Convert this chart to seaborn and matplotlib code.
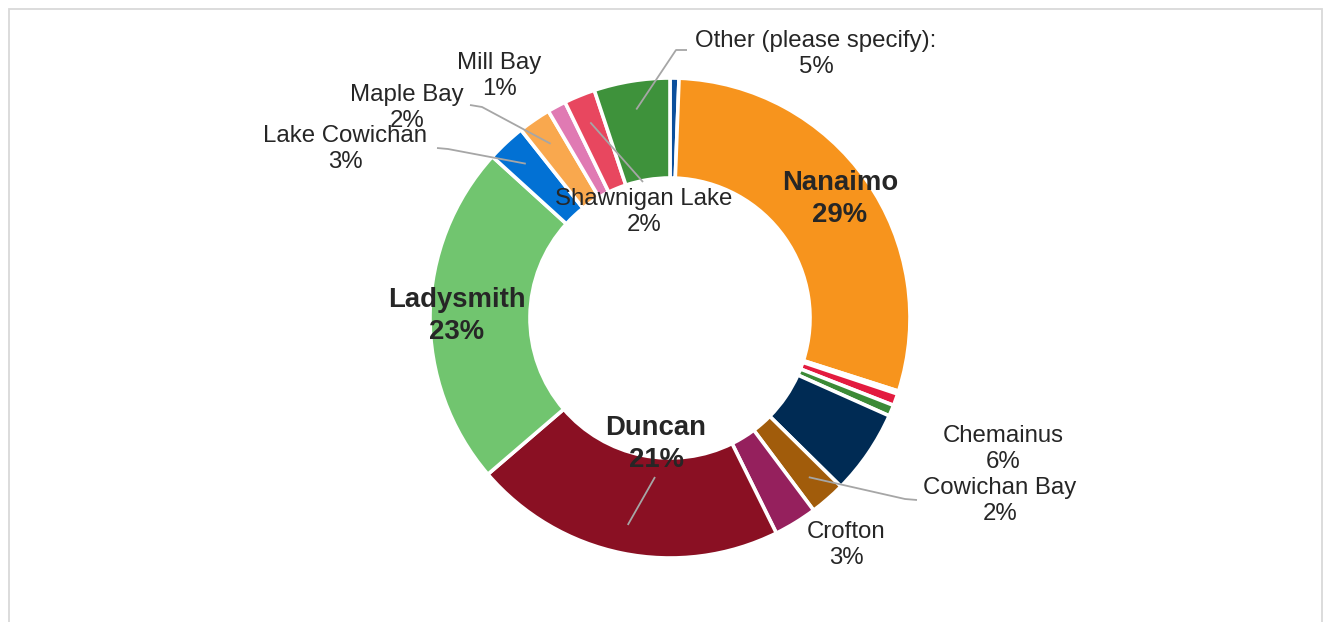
import matplotlib
matplotlib.use("Agg")
import matplotlib.pyplot as plt
from matplotlib.patches import Rectangle
import numpy as np
import seaborn as sns

# Community of residence, share of respondents (%), clockwise from 12 o'clock.
# Empty names are small groups that carry no label on the ring.
communities = ["", "Nanaimo", "", "", "", "Chemainus", "Cowichan Bay", "Crofton",
               "Duncan", "Ladysmith", "Lake Cowichan", "Maple Bay", "Mill Bay",
               "Shawnigan Lake", "Other (please specify):"]
shares = [0.6, 29.3, 0.2, 0.8, 0.75, 5.7, 2.4, 2.9,
          21.0, 23.0, 2.6, 2.2, 1.25, 2.1, 5.1]
slice_colors = ["#0B4F9C", "#F7941D", "#E87EB0", "#E31B3F", "#3C8A36", "#002B54",
                "#A15C0B", "#95205D", "#8A1023", "#71C56F", "#0271D4", "#F9A84E",
                "#E07AB3", "#E8475F", "#3E923B"]
big_labels = {"Nanaimo", "Ladysmith", "Duncan"}

# label placement in pixels (x from left, y from top) and leader-line routing
W, H = 1331, 622
CENTER = (670, 318)
R_OUT, RING = 240, 100
label_pos = {
    "Nanaimo": (840, 199), "Chemainus": (1003, 449), "Cowichan Bay": (1000, 501),
    "Crofton": (846, 545), "Duncan": (656, 444), "Ladysmith": (457, 316),
    "Lake Cowichan": (345, 149), "Maple Bay": (407, 108), "Mill Bay": (499, 76),
    "Shawnigan Lake": (644, 212), "Other (please specify):": (816, 54),
}
leaders = {
    "Other (please specify):": [(687, 50), (676, 50)],
    "Maple Bay": [(470, 105), (482, 107)],
    "Lake Cowichan": [(437, 148), (448, 149)],
    "Shawnigan Lake": [(643, 182)],
    "Duncan": [(655, 477)],
    "Cowichan Bay": [(917, 500), (905, 499)],
}

sns.set_theme(style="white")
plt.rcParams["font.family"] = ["Liberation Sans", "DejaVu Sans"]
palette = sns.color_palette(slice_colors)

fig = plt.figure(figsize=(W / 100, H / 100), dpi=100)
fig.patch.set_facecolor("white")
ax = fig.add_axes([0, 0, 1, 1])

wedges, _ = ax.pie(shares, colors=palette, startangle=-90, counterclock=True,
                   center=CENTER, radius=R_OUT,
                   wedgeprops=dict(width=RING, edgecolor="white", linewidth=2.6))
ax.set_xlim(0, W)
ax.set_ylim(H, 0)
ax.set_aspect("equal")
ax.axis("off")

total = sum(shares)
text_color = "#262626"
for name, share, wedge in zip(communities, shares, wedges):
    if not name:
        continue
    x, y = label_pos[name]
    pct = f"{round(share / total * 100):.0f}%"
    bold = name in big_labels
    ax.text(x, y, f"{name}\n{pct}", ha="center", va="center",
            fontsize=19.8 if bold else 17.3,
            fontweight="bold" if bold else "normal",
            color=text_color, linespacing=1.27, zorder=5)
    if name in leaders:
        mid = np.deg2rad((wedge.theta1 + wedge.theta2) / 2)
        r = R_OUT * 0.88
        px = CENTER[0] + r * np.cos(mid)
        py = CENTER[1] + r * np.sin(mid)
        pts = leaders[name] + [(px, py)]
        ax.plot([p[0] for p in pts], [p[1] for p in pts], color="#A6A6A6",
                lw=1.3, solid_capstyle="butt", zorder=4)

# chart frame
fig.add_artist(Rectangle((8.5 / W, -0.2), (1322 - 8.5) / W, 1.2 - 9 / H,
                         transform=fig.transFigure, fill=False,
                         edgecolor="#D9D9D9", linewidth=1.3))

fig.savefig("out.png", dpi=100, facecolor="white")
